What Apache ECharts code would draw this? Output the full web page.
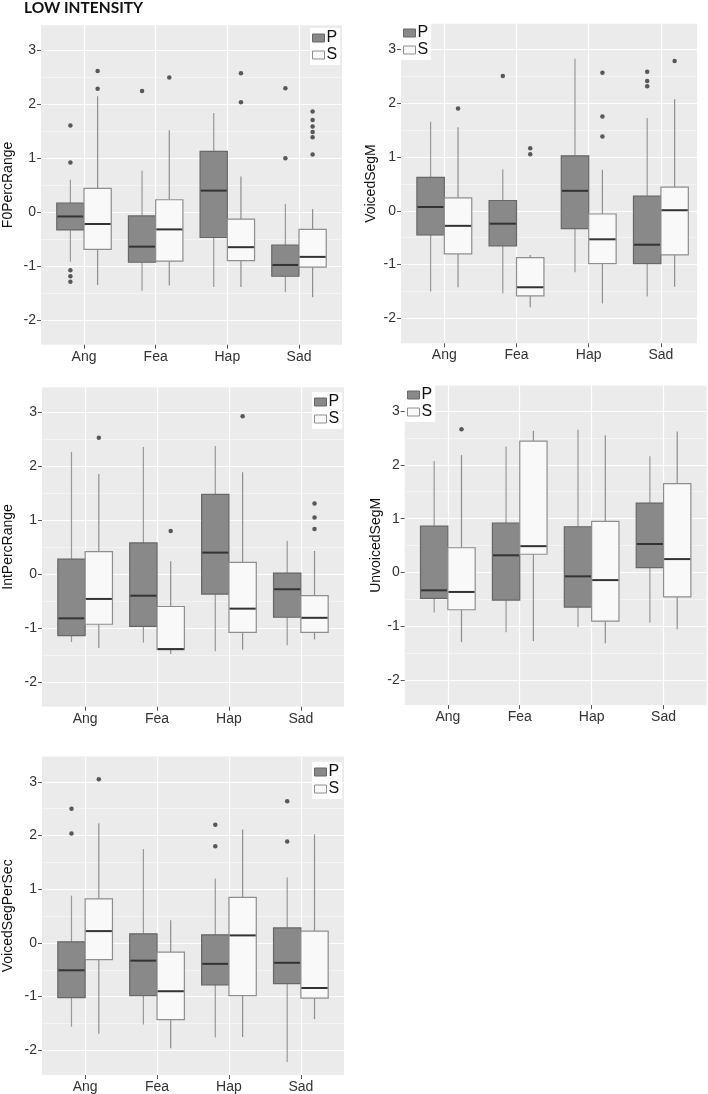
<!DOCTYPE html>
<html><head><meta charset="utf-8">
<script src="https://cdn.jsdelivr.net/npm/echarts@6/dist/echarts.min.js"></script>
<style>html,body{margin:0;padding:0;background:#fff}#c{width:708px;height:1094px}</style>
</head><body><div id="c"></div>
<script>
const categories = ['Ang', 'Fea', 'Hap', 'Sad'];
const groups = ['P', 'S'];
const yTickValues = [-2, -1, 0, 1, 2, 3];
const xTickValues = [1, 2, 3, 4];
const chartTitle = 'LOW INTENSITY';

// each box: [lowerWhisker, Q1, median, Q3, upperWhisker], one per category
const f0PercRangeP = [[-0.92, -0.33, -0.08, 0.17, 0.60], [-1.46, -0.93, -0.64, -0.07, 0.77], [-1.39, -0.47, 0.40, 1.13, 1.84], [-1.48, -1.19, -0.98, -0.61, 0.15]];
const f0PercRangeS = [[-1.35, -0.69, -0.22, 0.44, 2.15], [-1.36, -0.91, -0.32, 0.23, 1.52], [-1.39, -0.90, -0.65, -0.13, 0.66], [-1.58, -1.02, -0.83, -0.32, 0.06]];
const f0PercRangePOut = [[1.61, 0.92, -1.08, -1.19, -1.29], [2.25], [], [2.30, 1.00]];
const f0PercRangeSOut = [[2.62, 2.29], [2.50], [2.58, 2.04], [1.87, 1.71, 1.59, 1.49, 1.39, 1.07]];

const voicedSegMP = [[-1.50, -0.45, 0.07, 0.62, 1.65], [-1.53, -0.65, -0.24, 0.19, 0.77], [-1.14, -0.33, 0.37, 1.02, 2.82], [-1.59, -0.98, -0.63, 0.27, 1.72]];
const voicedSegMS = [[-1.42, -0.80, -0.28, 0.24, 1.55], [-1.79, -1.58, -1.42, -0.87, -0.82], [-1.72, -0.98, -0.53, -0.06, 0.76], [-1.41, -0.82, 0.01, 0.44, 2.07]];
const voicedSegMPOut = [[], [2.50], [], [2.58, 2.41, 2.31]];
const voicedSegMSOut = [[1.90], [1.16, 1.05], [2.56, 1.75, 1.38], [2.78]];

const intPercRangeP = [[-1.26, -1.14, -0.82, 0.28, 2.27], [-1.27, -0.97, -0.40, 0.58, 2.36], [-1.43, -0.37, 0.40, 1.48, 2.38], [-1.32, -0.80, -0.28, 0.02, 0.62]];
const intPercRangeS = [[-1.37, -0.93, -0.46, 0.42, 1.86], [-1.48, -1.40, -1.39, -0.60, 0.24], [-1.40, -1.08, -0.64, 0.22, 1.89], [-1.21, -1.08, -0.81, -0.40, 0.43]];
const intPercRangePOut = [[], [], [], []];
const intPercRangeSOut = [[2.53], [0.80], [2.93], [1.31, 1.05, 0.84]];

const unvoicedSegMP = [[-0.74, -0.48, -0.33, 0.86, 2.07], [-1.11, -0.51, 0.32, 0.92, 2.34], [-1.01, -0.64, -0.07, 0.85, 2.65], [-0.93, 0.09, 0.53, 1.29, 2.16]];
const unvoicedSegMS = [[-1.29, -0.69, -0.36, 0.46, 2.18], [-1.27, 0.34, 0.49, 2.44, 2.63], [-1.31, -0.90, -0.14, 0.95, 2.55], [-1.05, -0.45, 0.25, 1.65, 2.62]];
const unvoicedSegMPOut = [[], [], [], []];
const unvoicedSegMSOut = [[2.66], [], [], []];

const voicedSegPerSecP = [[-1.56, -1.02, -0.51, 0.02, 0.88], [-1.52, -0.98, -0.33, 0.17, 1.75], [-1.76, -0.78, -0.39, 0.15, 1.20], [-2.22, -0.76, -0.37, 0.28, 1.22]];
const voicedSegPerSecS = [[-1.69, -0.31, 0.22, 0.82, 2.23], [-1.96, -1.43, -0.90, -0.17, 0.42], [-1.75, -0.98, 0.14, 0.85, 2.11], [-1.42, -1.03, -0.84, 0.22, 2.02]];
const voicedSegPerSecPOut = [[2.50, 2.04], [], [2.20, 1.80], [2.64, 1.89]];
const voicedSegPerSecSOut = [[3.05], [], [], []];

const panelNames = ['F0PercRange', 'VoicedSegM', 'IntPercRange', 'UnvoicedSegM', 'VoicedSegPerSec'];
const panelBoxes = [
  [f0PercRangeP, f0PercRangeS], [voicedSegMP, voicedSegMS], [intPercRangeP, intPercRangeS],
  [unvoicedSegMP, unvoicedSegMS], [voicedSegPerSecP, voicedSegPerSecS]
];
const panelOutliers = [
  [f0PercRangePOut, f0PercRangeSOut], [voicedSegMPOut, voicedSegMSOut], [intPercRangePOut, intPercRangeSOut],
  [unvoicedSegMPOut, unvoicedSegMSOut], [voicedSegPerSecPOut, voicedSegPerSecSOut]
];

// ---- layout / style (not data) ----
const Y_MIN = -2.46, Y_MAX = 3.47, X_MIN = 0.4;
const PANEL_H = 319.5;
const layout = [
  { left: 39,    top: 25.2,  width: 303,   xMax: 4.6, lgLeft: 310, lgTop: 28,  nameGap: 26 },
  { left: 401,   top: 23.8,  width: 296,   xMax: 4.5, lgLeft: 401, lgTop: 23,  nameGap: 23 },
  { left: 40.7,  top: 387.2, width: 303.3, xMax: 4.6, lgLeft: 312, lgTop: 392, nameGap: 27 },
  { left: 404.7, top: 385.6, width: 302,   xMax: 4.6, lgLeft: 405, lgTop: 385, nameGap: 22 },
  { left: 40.7,  top: 756.6, width: 303.3, xMax: 4.6, lgLeft: 312, lgTop: 762, nameGap: 27 }
];
const DODGE = 0.19, HALF = 0.19;
const FONT = "'Liberation Sans', Arial, sans-serif";
const groupStyle = {
  P: { fill: '#898989', stroke: '#676767', whisker: '#999999' },
  S: { fill: '#F9F9F9', stroke: '#8E8E8E', whisker: '#8E8E8E' }
};

function makeRenderItem(g) {
  const st = groupStyle[g];
  const off = g === 'P' ? -DODGE : DODGE;
  return function (params, api) {
    const x = api.value(0) + off;
    const lo = api.value(1), q1 = api.value(2), med = api.value(3), q3 = api.value(4), hi = api.value(5);
    const tl = api.coord([x - HALF, q3]);
    const br = api.coord([x + HALF, q1]);
    const pHi = api.coord([x, hi]);
    const pLo = api.coord([x, lo]);
    const pM = api.coord([x, med]);
    return {
      type: 'group',
      children: [
        { type: 'line', shape: { x1: pHi[0], y1: pHi[1], x2: pHi[0], y2: tl[1] }, style: { stroke: st.whisker, lineWidth: 1.2 } },
        { type: 'line', shape: { x1: pLo[0], y1: pLo[1], x2: pLo[0], y2: br[1] }, style: { stroke: st.whisker, lineWidth: 1.2 } },
        { type: 'rect', shape: { x: tl[0], y: tl[1], width: br[0] - tl[0], height: br[1] - tl[1] }, style: { fill: st.fill, stroke: st.stroke, lineWidth: 1.2 } },
        { type: 'line', shape: { x1: tl[0] + 0.6, y1: pM[1], x2: br[0] - 0.6, y2: pM[1] }, style: { stroke: '#333333', lineWidth: 2 } }
      ]
    };
  };
}

const grids = [], xAxes = [], yAxes = [], series = [], legends = [];
panelNames.forEach((name, i) => {
  const L = layout[i];
  grids.push({ left: L.left, top: L.top, width: L.width, height: PANEL_H, show: true, backgroundColor: '#EBEBEB', borderWidth: 0 });
  xAxes.push({
    gridIndex: i, type: 'value', min: X_MIN, max: L.xMax, minInterval: 1, maxInterval: 1,
    axisLine: { show: false, onZero: false },
    axisTick: { show: true, customValues: xTickValues, length: 4, lineStyle: { color: '#555' } },
    axisLabel: { customValues: xTickValues, formatter: v => categories[Math.round(v) - 1] || '', fontSize: 14, color: '#333', margin: 5, fontFamily: FONT },
    splitLine: { show: true, lineStyle: { color: '#FFFFFF', width: 1.2 } }
  });
  yAxes.push({
    gridIndex: i, type: 'value', min: Y_MIN, max: Y_MAX, minInterval: 1, maxInterval: 1,
    name: name, nameLocation: 'middle', nameGap: L.nameGap,
    nameTextStyle: { fontSize: 14, color: '#111', fontFamily: FONT },
    axisLine: { show: false, onZero: false },
    axisTick: { show: true, customValues: yTickValues, length: 4, lineStyle: { color: '#555' } },
    axisLabel: { customValues: yTickValues, fontSize: 14, color: '#333', margin: 5, fontFamily: FONT },
    splitLine: { show: true, lineStyle: { color: '#FFFFFF', width: 1.2 } },
    minorTick: { show: false, splitNumber: 2 },
    minorSplitLine: { show: true, lineStyle: { color: '#F4F4F4', width: 1 } }
  });
  groups.forEach((g, gi) => {
    const boxes = panelBoxes[i][gi];
    series.push({
      type: 'custom', name: g, xAxisIndex: i, yAxisIndex: i,
      renderItem: makeRenderItem(g),
      encode: { x: 0, y: [1, 2, 3, 4, 5] },
      data: boxes.map((b, ci) => [ci + 1].concat(b)),
      itemStyle: { color: groupStyle[g].fill },
      silent: true, z: 2
    });
    const outs = [];
    panelOutliers[i][gi].forEach((vals, ci) => vals.forEach(v => outs.push([ci + 1 + (g === 'P' ? -DODGE : DODGE), v])));
    series.push({
      type: 'scatter', name: g, xAxisIndex: i, yAxisIndex: i,
      data: outs, symbol: 'circle', symbolSize: 4.5,
      itemStyle: { color: '#333333' }, silent: true, z: 3
    });
  });
  legends.push({
    left: L.lgLeft, top: L.lgTop, orient: 'vertical', backgroundColor: '#FFFFFF',
    padding: [2, 3, 2, 2], itemGap: 1, itemWidth: 12, itemHeight: 8,
    textStyle: { fontSize: 16, color: '#111', fontFamily: FONT, padding: [0, 0, 0, -3] },
    selectedMode: false,
    data: groups.map(g => ({ name: g, icon: 'rect', itemStyle: { color: groupStyle[g].fill, borderColor: groupStyle[g].stroke, borderWidth: 1 } }))
  });
});

const chart = echarts.init(document.getElementById('c'), null, { renderer: 'canvas' });
chart.setOption({
  animation: false,
  backgroundColor: '#FFFFFF',
  grid: grids, xAxis: xAxes, yAxis: yAxes, series: series, legend: legends,
  graphic: [{ type: 'text', left: 24, top: 0, style: { text: chartTitle, font: "bold 15.5px Lato, 'Open Sans', sans-serif", fill: '#111' } }]
});
</script></body></html>
